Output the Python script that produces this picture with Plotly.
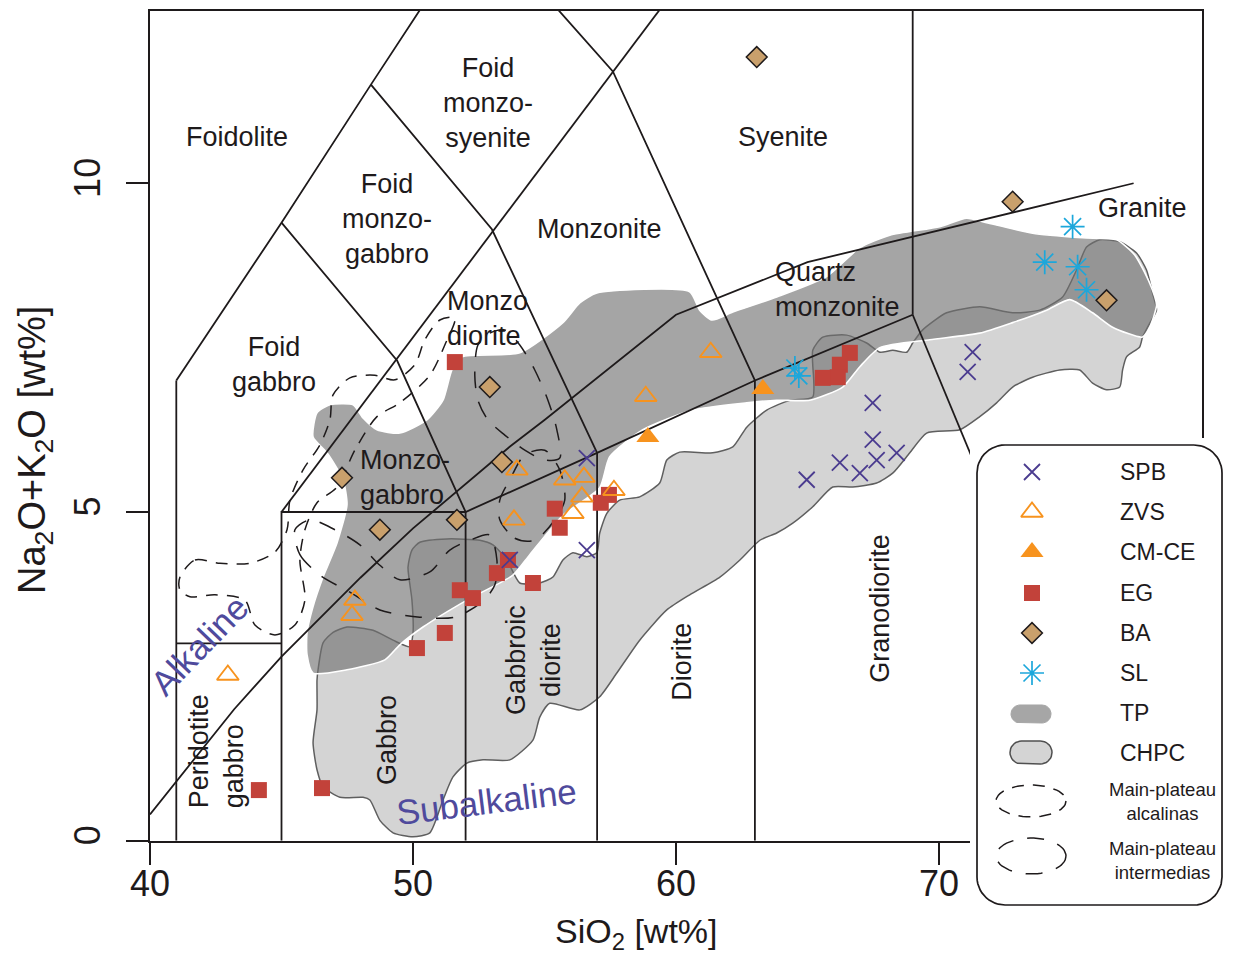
import numpy as np
import plotly.graph_objects as go

# ---------------- samples (SiO2 wt%, Na2O+K2O wt%) ----------------
spb_sio2 = [56.61, 56.61, 53.68, 64.97, 66.23, 66.99, 67.63, 68.39, 67.48, 67.48, 71.09, 71.28]
spb_alk = [5.82, 4.42, 4.27, 5.49, 5.75, 5.59, 5.79, 5.90, 6.10, 6.66, 7.13, 7.43]

zvs_sio2 = [61.32, 58.85, 53.95, 55.77, 56.50, 56.42, 57.64, 56.08, 53.84, 47.79, 47.68, 42.96]
zvs_alk = [7.43, 6.76, 5.64, 5.49, 5.53, 5.23, 5.33, 4.98, 4.88, 3.66, 3.43, 2.52]

cmce_sio2 = [58.93, 63.30]
cmce_alk = [6.14, 6.87]

eg_sio2 = [51.59, 66.61, 66.23, 66.15, 65.58, 57.45, 57.14, 55.39, 55.58, 53.61, 53.19,
           54.56, 51.78, 52.28, 51.21, 50.15, 46.54, 44.14]
eg_alk = [7.28, 7.42, 7.24, 7.05, 7.04, 5.26, 5.14, 5.05, 4.76, 4.27, 4.07,
          3.92, 3.81, 3.69, 3.16, 2.93, 0.80, 0.77]

ba_sio2 = [63.07, 72.80, 76.37, 52.92, 53.38, 47.30, 48.74, 51.67]
ba_alk = [11.92, 9.72, 8.22, 6.90, 5.76, 5.52, 4.73, 4.88]

sl_sio2 = [75.08, 74.02, 75.27, 75.61, 64.52, 64.67]
sl_alk = [9.34, 8.80, 8.73, 8.38, 7.19, 7.07]

# ---------------- fields (outlines) ----------------
tp_sio2 = [46.20, 46.35, 46.84, 47.72, 48.10, 48.63, 49.50, 50.53, 51.14, 51.48, 51.86, 54.06, 55.70,
           56.34, 56.99, 60.52, 60.90, 61.36, 62.16, 63.83, 65.73, 66.99, 68.13, 70.03, 71.05, 71.81,
           73.56, 75.46, 76.75, 77.44, 78.01, 78.27, 78.01, 77.74, 76.60, 75.84, 74.97, 74.09, 72.80,
           71.55, 69.65, 67.75, 66.99, 66.34, 65.09, 63.83, 62.69, 60.64, 58.74, 57.48, 57.10, 55.70,
           54.44, 53.80, 52.05, 50.38, 49.50, 48.93, 47.49, 46.20, 45.97, 45.97, 46.20, 46.58, 47.11,
           47.49, 47.34, 46.73]
tp_alk = [6.14, 6.51, 6.63, 6.63, 6.43, 6.25, 6.20, 6.40, 6.70, 7.16, 7.36, 7.42, 7.88,
          8.18, 8.33, 8.35, 8.07, 7.92, 8.04, 8.27, 8.58, 9.02, 9.21, 9.34, 9.47, 9.40,
          9.24, 9.17, 9.14, 8.91, 8.48, 8.15, 7.81, 7.66, 7.81, 8.03, 8.23, 8.07, 7.88,
          7.72, 7.62, 7.50, 7.21, 6.90, 6.70, 6.70, 6.66, 6.55, 6.25, 5.84, 5.37, 4.95,
          4.35, 4.04, 3.66, 3.25, 2.98, 2.75, 2.60, 2.55, 2.83, 3.16, 3.56, 4.01, 4.53,
          5.11, 5.49, 5.90]

chpc_sio2 = [46.39, 46.58, 46.96, 47.49, 48.48, 49.24, 49.88, 50.00, 49.96, 49.81,
             49.96, 50.26, 51.29, 52.54, 53.04, 53.57, 54.06, 54.82, 55.32, 55.70,
             56.08, 56.61, 56.99, 57.10, 57.37, 57.86, 58.62, 59.38, 59.65, 60.14,
             61.40, 62.16, 62.69, 63.45, 64.33, 65.20, 65.20, 65.58, 66.49, 67.25,
             67.75, 68.24, 68.77, 69.00, 69.38, 70.29, 71.55, 72.80, 73.83, 74.70,
             75.23, 75.61, 76.11, 76.87, 77.51, 77.89, 78.12, 78.27, 78.01, 77.74,
             77.63, 77.13, 76.98, 76.87, 76.37, 75.84, 75.35, 74.59, 73.56, 72.80,
             72.19, 71.55, 70.79, 69.53, 68.89, 68.24, 67.63, 66.72, 65.96, 65.20,
             64.44, 63.83, 63.19, 62.43, 61.67, 60.52, 59.65, 58.62, 57.75, 57.10,
             56.34, 55.20, 54.82, 54.56, 53.68, 52.66, 52.05, 51.52, 51.14, 50.64,
             50.00, 49.24, 48.74, 48.36, 48.10, 47.22, 46.58, 46.35, 46.20, 46.35,
             46.35]
chpc_alk = [2.60, 3.01, 3.17, 3.25, 3.20, 3.05, 2.95, 3.16, 3.66, 4.16,
            4.42, 4.54, 4.59, 4.57, 4.50, 4.27, 3.92, 3.92, 4.01, 4.27,
            4.38, 4.32, 4.38, 4.68, 4.98, 5.18, 5.23, 5.44, 5.79, 5.91,
            5.90, 5.99, 6.29, 6.55, 6.70, 6.75, 7.46, 7.66, 7.69, 7.57,
            7.43, 7.46, 7.43, 7.57, 7.77, 8.03, 8.12, 8.03, 8.07, 8.27,
            8.68, 9.03, 9.14, 9.11, 8.94, 8.68, 8.33, 8.07, 7.87, 7.66,
            7.51, 7.36, 7.16, 6.90, 6.86, 6.96, 7.16, 7.16, 7.05, 6.90,
            6.66, 6.45, 6.25, 6.20, 5.90, 5.59, 5.44, 5.38, 5.38, 5.08,
            4.83, 4.68, 4.57, 4.27, 4.01, 3.74, 3.51, 3.05, 2.55, 2.19,
            1.99, 2.09, 1.88, 1.53, 1.23, 1.23, 1.18, 0.97, 0.62, 0.12,
            0.06, 0.12, 0.31, 0.62, 0.66, 0.66, 0.82, 1.08, 1.49, 1.99,
            2.44]

# main-plateau contours
alc_sio2 = [41.14, 41.71, 42.66, 43.80, 44.75, 45.21, 45.32, 45.82, 46.46, 46.84, 46.96, 47.60,
            48.55, 49.31, 50.07, 50.45, 51.02, 51.59, 51.21, 50.64, 49.50, 48.63, 47.79, 47.11,
            46.35, 45.89, 45.70, 45.89, 45.51, 44.75, 43.99, 43.61, 42.47, 41.52, 41.14]
alc_alk = [4.01, 4.27, 4.22, 4.22, 4.39, 4.73, 5.18, 5.64, 6.02, 6.40, 6.78, 7.04,
           7.08, 7.01, 7.24, 7.62, 7.92, 7.95, 7.54, 7.08, 6.66, 6.45, 5.94, 5.38,
           5.14, 4.73, 4.27, 3.66, 3.28, 3.13, 3.28, 3.66, 3.74, 3.71, 3.81]

int1_sio2 = [52.47, 52.92, 53.49, 54.06, 54.63, 55.13, 55.47, 55.58, 55.01, 54.25, 53.49, 52.85, 52.47, 52.35]
int1_alk = [7.54, 7.72, 7.77, 7.54, 7.16, 6.70, 6.25, 5.82, 5.79, 5.94, 6.17, 6.40, 6.70, 7.08]

int2_sio2 = [45.51, 45.70, 46.46, 47.60, 48.74, 50.26, 51.59, 52.62, 53.11, 53.19, 52.92, 52.16,
             51.40, 50.64, 49.50, 48.74, 47.98, 47.03, 46.08]
int2_alk = [4.73, 4.35, 4.04, 3.78, 3.51, 3.40, 3.40, 3.63, 3.89, 4.27, 4.65, 4.57,
            4.42, 4.09, 3.97, 4.19, 4.50, 4.73, 4.88]

int3_sio2 = [53.30, 53.87, 54.63, 55.39, 55.77, 55.58, 55.01, 54.25, 53.68, 53.30]
int3_alk = [4.88, 4.60, 4.57, 4.88, 5.18, 5.64, 5.94, 5.87, 5.49, 5.18]

# ---------------- classification boundaries (Middlemost 1994) ----------------
bnd_41_x, bnd_41_y = [41, 41], [0, 7]
bnd_foidolite_x, bnd_foidolite_y = [41, 45, 48.4, 52.5], [7, 9.4, 11.5, 14]
bnd_fgab_x, bnd_fgab_y = [45, 49.4, 52], [9.4, 7.3, 5]
bnd_fmgab_x, bnd_fmgab_y = [48.4, 53, 57], [11.5, 9.3, 5.9]
bnd_fmsy_x, bnd_fmsy_y = [52.5, 57.6, 63], [14, 11.7, 7]
bnd_foid_x, bnd_foid_y = [45, 61], [5, 13.5]
bnd_perid_x, bnd_perid_y = [41, 45], [3, 3]
bnd_base_x, bnd_base_y = [45, 45, 52, 57, 63, 69], [0, 5, 5, 5.9, 7, 8]
bnd_52_x, bnd_52_y = [52, 52], [0, 5]
bnd_57_x, bnd_57_y = [57, 57], [0, 5.9]
bnd_63_x, bnd_63_y = [63, 63], [0, 7]
bnd_69_x, bnd_69_y = [69, 69], [8, 14]
bnd_gran_x, bnd_gran_y = [69, 77.3], [8, 0]
# Irvine & Baragar alkaline / subalkaline divide
ib_sio2 = [40.0, 43.2, 45.0, 48.0, 50.0, 53.7, 55.0, 60.0, 65.0, 77.4]
ib_alk = [0.4, 2.0, 2.8, 4.0, 4.75, 6.0, 6.4, 8.0, 8.8, 10.0]

INK = "#1e1a1b"
PURPLE = "#4a3b8f"
ORANGE = "#f7931e"
RED = "#c2423a"
TAN = "#c9a06c"
CYAN = "#1ca7db"
LABEL_PURPLE = "#4f4a9c"
FONT = "Liberation Sans, Arial, sans-serif"

fig = go.Figure()


def closed(a):
    return list(a) + [a[0]]


# CHPC field (light gray) then TP (dark translucent gray)
fig.add_trace(go.Scatter(x=closed(chpc_sio2), y=closed(chpc_alk), mode="lines", fill="toself",
                         fillcolor="rgb(212,212,212)", line=dict(color="rgb(95,95,95)", width=1.5,
                                                                  shape="spline", smoothing=0.6),
                         hoverinfo="skip"))
fig.add_trace(go.Scatter(x=closed(tp_sio2), y=closed(tp_alk), mode="lines", fill="toself",
                         fillcolor="rgba(113,113,113,0.63)", line=dict(color="white", width=1.6,
                                                                        shape="spline", smoothing=0.6),
                         hoverinfo="skip"))

# boundaries
for bx, by in [(bnd_41_x, bnd_41_y), (bnd_foidolite_x, bnd_foidolite_y), (bnd_fgab_x, bnd_fgab_y),
               (bnd_fmgab_x, bnd_fmgab_y), (bnd_fmsy_x, bnd_fmsy_y), (bnd_foid_x, bnd_foid_y),
               (bnd_perid_x, bnd_perid_y), (bnd_base_x, bnd_base_y), (bnd_52_x, bnd_52_y),
               (bnd_57_x, bnd_57_y), (bnd_63_x, bnd_63_y), (bnd_69_x, bnd_69_y),
               (bnd_gran_x, bnd_gran_y), (ib_sio2, ib_alk)]:
    fig.add_trace(go.Scatter(x=bx, y=by, mode="lines", line=dict(color=INK, width=1.8),
                             hoverinfo="skip"))

# dashed main-plateau contours
fig.add_trace(go.Scatter(x=closed(alc_sio2), y=closed(alc_alk), mode="lines",
                         line=dict(color=INK, width=1.5, dash="12px,9px", shape="spline", smoothing=0.8),
                         hoverinfo="skip"))
for cx, cy in [(int1_sio2, int1_alk), (int2_sio2, int2_alk), (int3_sio2, int3_alk)]:
    fig.add_trace(go.Scatter(x=closed(cx), y=closed(cy), mode="lines",
                             line=dict(color=INK, width=1.5, dash="17px,14px", shape="spline",
                                       smoothing=0.8),
                             hoverinfo="skip"))

# symbol styles
sty = {
    "SPB": dict(symbol="x-thin-open", size=16, color=PURPLE, line=dict(color=PURPLE, width=1.8)),
    "ZVS": dict(symbol="triangle-up-open", size=19, color=ORANGE, line=dict(color=ORANGE, width=1.9)),
    "CM-CE": dict(symbol="triangle-up", size=20, color=ORANGE, line=dict(width=0)),
    "EG": dict(symbol="square", size=16, color=RED, line=dict(width=0)),
    "BA": dict(symbol="diamond", size=16, color=TAN, line=dict(color=INK, width=1.5)),
    "SL": dict(symbol="asterisk-open", size=20, color=CYAN, line=dict(color=CYAN, width=1.7)),
}
series = [("EG", eg_sio2, eg_alk), ("ZVS", zvs_sio2, zvs_alk), ("CM-CE", cmce_sio2, cmce_alk),
          ("BA", ba_sio2, ba_alk), ("SPB", spb_sio2, spb_alk), ("SL", sl_sio2, sl_alk)]
for name, sx, sy in series:
    fig.add_trace(go.Scatter(x=sx, y=sy, mode="markers", name=name, marker=sty[name],
                             cliponaxis=False))

# ---------------- custom legend (second subplot drawn on top) ----------------
def rounded_rect(x0, y0, x1, y1, r, n=14):
    xs, ys = [], []
    for cx, cy, a0, a1 in [(x1 - r, y0 + r, 90, 0), (x1 - r, y1 - r, 0, -90),
                           (x0 + r, y1 - r, -90, -180), (x0 + r, y0 + r, 180, 90)]:
        t = np.radians(np.linspace(a0, a1, n))
        xs += list(cx + r * np.cos(t))
        ys += list(cy - r * np.sin(t))
    return xs + [xs[0]], ys + [ys[0]]


def ellipse(cx, cy, a, b, n=60):
    t = np.linspace(0, 2 * np.pi, n)
    return list(cx + a * np.cos(t)), list(cy + b * np.sin(t))


lx, ly = rounded_rect(977, 445, 1222, 905, 28)
fig.add_trace(go.Scatter(x=lx, y=ly, xaxis="x2", yaxis="y2", mode="lines", fill="toself",
                         fillcolor="white", line=dict(color=INK, width=1.7), hoverinfo="skip"))

leg_names = ["SPB", "ZVS", "CM-CE", "EG", "BA", "SL"]
leg_rows = [472, 512, 552, 593, 633, 673]
for nm, ry in zip(leg_names, leg_rows):
    fig.add_trace(go.Scatter(x=[1032], y=[ry], xaxis="x2", yaxis="y2", mode="markers",
                             marker=sty[nm], hoverinfo="skip"))

px_, py_ = rounded_rect(1011, 705, 1051, 723, 9, 10)
fig.add_trace(go.Scatter(x=px_, y=py_, xaxis="x2", yaxis="y2", mode="lines", fill="toself",
                         fillcolor="rgb(166,166,166)", line=dict(color="rgb(166,166,166)", width=1),
                         hoverinfo="skip"))
px_, py_ = rounded_rect(1010, 741, 1052, 764, 11.5, 10)
fig.add_trace(go.Scatter(x=px_, y=py_, xaxis="x2", yaxis="y2", mode="lines", fill="toself",
                         fillcolor="rgb(212,212,212)", line=dict(color="rgb(80,80,80)", width=1.5),
                         hoverinfo="skip"))
ex, ey = ellipse(1031, 801, 35, 16)
fig.add_trace(go.Scatter(x=ex, y=ey, xaxis="x2", yaxis="y2", mode="lines",
                         line=dict(color=INK, width=1.5, dash="12px,9px"), hoverinfo="skip"))
ex, ey = ellipse(1031, 856, 35, 18)
fig.add_trace(go.Scatter(x=ex, y=ey, xaxis="x2", yaxis="y2", mode="lines",
                         line=dict(color=INK, width=1.5, dash="17px,14px"), hoverinfo="skip"))

annotations = []
for nm, ry in zip(leg_names + ["TP", "CHPC"], leg_rows + [713, 753]):
    annotations.append(dict(x=1118, y=ry, xref="x2", yref="y2", text=nm, showarrow=False,
                            xanchor="left", yanchor="middle",
                            font=dict(family=FONT, size=23, color=INK)))
for txt, ry in [("Main-plateau<br>alcalinas", 802), ("Main-plateau<br>intermedias", 861)]:
    annotations.append(dict(x=1162, y=ry, xref="x2", yref="y2", text=txt, showarrow=False,
                            xanchor="center", yanchor="middle", align="center",
                            font=dict(family=FONT, size=18.5, color=INK)))

# ---------------- field labels ----------------
field_labels = [
    ("Foidolite", 43.31, 10.70, 0, "center"),
    ("Foid<br>monzo-<br>syenite", 52.85, 11.22, 0, "center"),
    ("Syenite", 64.06, 10.70, 0, "center"),
    ("Foid<br>monzo-<br>gabbro", 49.01, 9.46, 0, "center"),
    ("Monzonite", 57.10, 9.30, 0, "center"),
    ("Granite", 77.74, 9.62, 0, "center"),
    ("Quartz<br>monzonite", 66.15, 8.39, 0, "left"),
    ("Monzo<br>diorite", 52.85, 7.94, 0, "left"),
    ("Foid<br>gabbro", 44.71, 7.25, 0, "center"),
    ("Monzo-<br>gabbro", 49.69, 5.52, 0, "left"),
    ("Peridotite<br>gabbro", 42.51, 1.36, -90, "left"),
    ("Gabbro", 49.01, 1.53, -90, "center"),
    ("Gabbroic<br>diorite", 54.60, 2.75, -90, "center"),
    ("Diorite", 60.22, 2.72, -90, "center"),
    ("Granodiorite", 67.75, 3.54, -90, "center"),
]
for txt, x, y, ang, al in field_labels:
    annotations.append(dict(x=x, y=y, xref="x", yref="y", text=txt, showarrow=False,
                            textangle=ang, align=al, xanchor="center", yanchor="middle",
                            font=dict(family=FONT, size=27, color=INK)))
annotations.append(dict(x=41.90, y=2.98, xref="x", yref="y", text="Alkaline", showarrow=False,
                        textangle=-46, font=dict(family=FONT, size=35, color=LABEL_PURPLE)))
annotations.append(dict(x=52.81, y=0.60, xref="x", yref="y", text="Subalkaline", showarrow=False,
                        textangle=-7, font=dict(family=FONT, size=35, color=LABEL_PURPLE)))

# axis titles
annotations.append(dict(x=0.4509, y=-0.0175, xref="paper", yref="paper",
                        text="SiO<sub>2</sub> [wt%]", showarrow=False, xanchor="center",
                        yanchor="middle", font=dict(family=FONT, size=34, color=INK)))
annotations.append(dict(x=-0.1065, y=0.516, xref="paper", yref="paper",
                        text="Na<sub>2</sub>O+K<sub>2</sub>O [wt%]", showarrow=False,
                        textangle=-90, xanchor="center", yanchor="middle",
                        font=dict(family=FONT, size=38, color=INK)))

axis_common = dict(showgrid=False, zeroline=False, showline=True, linecolor=INK, linewidth=1.6,
                   mirror=True, ticks="outside", ticklen=22, tickwidth=1.6, tickcolor=INK,
                   tickfont=dict(family=FONT, size=36, color=INK))

fig.update_layout(
    width=1238, height=958, autosize=False,
    margin=dict(l=150, r=8, t=11, b=40),
    paper_bgcolor="white", plot_bgcolor="white",
    showlegend=False,
    xaxis=dict(range=[40, 80], domain=[0, 0.974074], tickvals=[40, 50, 60, 70],
               ticklabelstandoff=-12, **axis_common),
    yaxis=dict(range=[0, 12.62], domain=[0.085226, 1], tickvals=[0, 5, 10], tickangle=-90,
               ticklabelstandoff=12, **axis_common),
    xaxis2=dict(range=[970, 1228], domain=[0.75926, 0.99815], anchor="y2", visible=False),
    yaxis2=dict(range=[912, 438], domain=[0.006615, 0.52922], anchor="x2", visible=False),
    annotations=annotations,
)

fig.write_html("out.html")
